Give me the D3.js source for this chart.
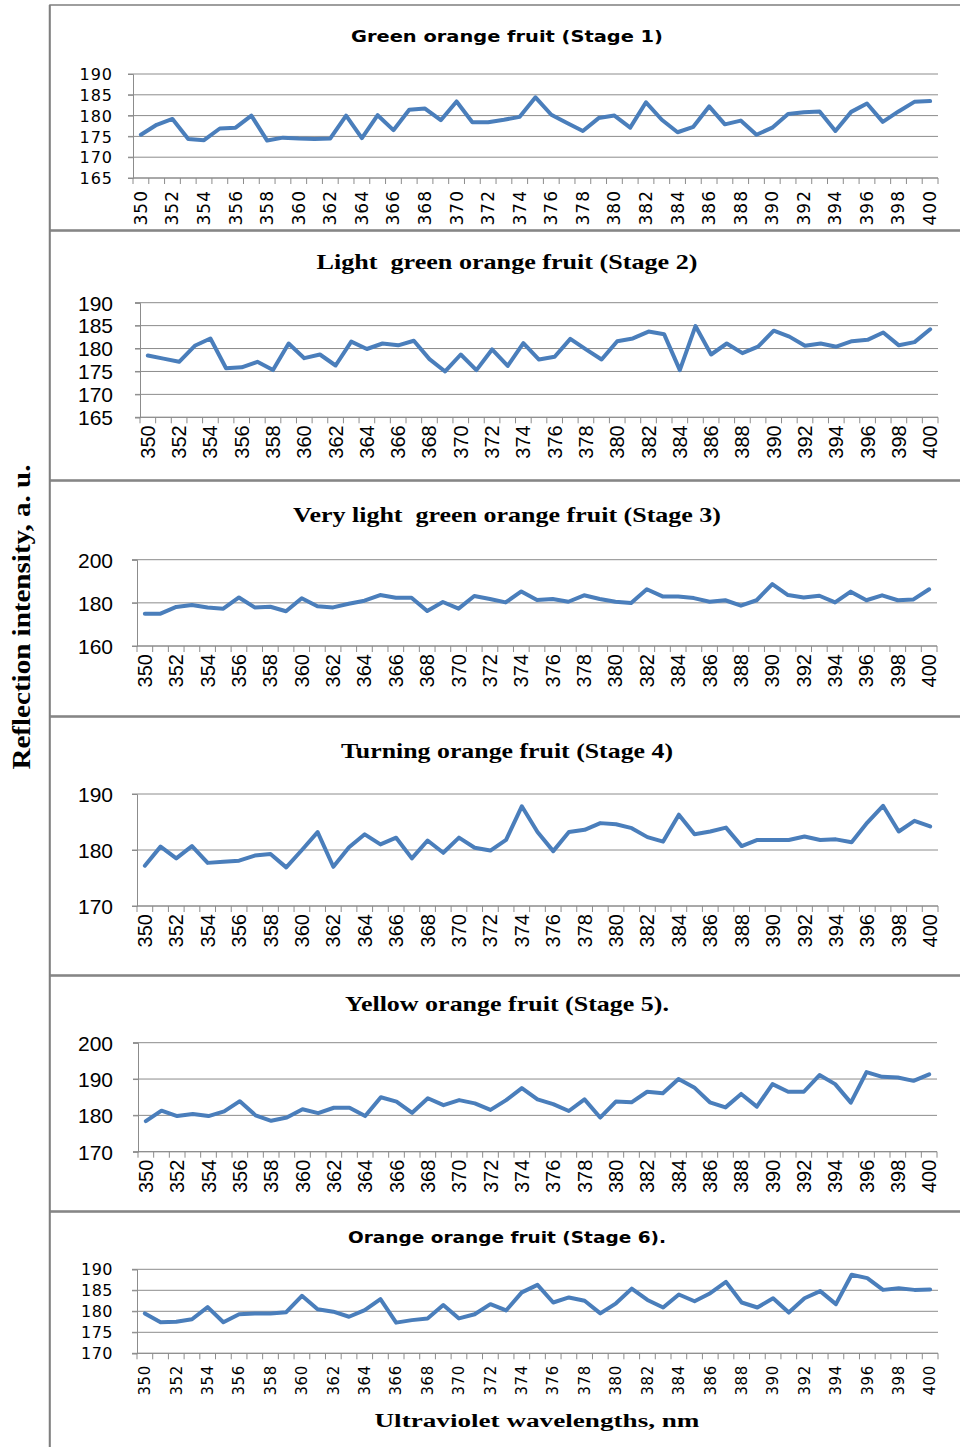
<!DOCTYPE html>
<html><head><meta charset="utf-8">
<script src="https://cdn.jsdelivr.net/npm/d3@7"></script>
<style>body{margin:0;background:#fff}svg{display:block}</style></head>
<body>
<script>
const wavelengths = [350,351,352,353,354,355,356,357,358,359,360,361,362,363,364,365,366,367,368,369,370,371,372,373,374,375,376,377,378,379,380,381,382,383,384,385,386,387,388,389,390,391,392,393,394,395,396,397,398,399,400];
const xTickLabels = [350,352,354,356,358,360,362,364,366,368,370,372,374,376,378,380,382,384,386,388,390,392,394,396,398,400];

const stage1 = [175.4,177.8,179.2,174.4,174.1,176.9,177.1,180.0,174.0,174.7,174.5,174.4,174.5,180.0,174.6,180.1,176.5,181.4,181.7,178.9,183.4,178.4,178.4,179.0,179.7,184.4,180.2,178.2,176.3,179.4,180.0,177.1,183.2,179.0,176.0,177.3,182.2,177.9,178.8,175.4,177.1,180.4,180.8,181.0,176.3,180.9,182.9,178.5,181.0,183.3,183.5];
const stage2 = [178.5,177.8,177.1,180.6,182.2,175.7,175.9,177.1,175.3,181.1,177.9,178.7,176.3,181.5,179.9,181.1,180.7,181.7,177.7,175.0,178.7,175.3,179.8,176.2,181.2,177.6,178.2,182.1,179.8,177.6,181.6,182.2,183.7,183.1,175.3,184.9,178.7,181.1,179.0,180.4,183.9,182.6,180.6,181.1,180.4,181.6,181.9,183.5,180.7,181.4,184.2];
const stage3 = [175.0,175.0,178.1,179.0,177.8,177.3,182.5,177.9,178.2,176.1,182.1,178.4,177.9,179.6,181.0,183.6,182.4,182.4,176.2,180.4,177.3,183.2,181.8,180.2,185.3,181.3,181.8,180.5,183.5,181.8,180.5,179.9,186.3,183.0,182.9,182.2,180.5,181.2,178.7,181.2,188.7,183.6,182.5,183.3,180.2,185.2,181.2,183.5,181.2,181.6,186.3];
const stage4 = [177.2,180.6,178.5,180.7,177.7,177.9,178.1,179.0,179.3,176.9,180.0,183.2,177.0,180.5,182.8,181.0,182.2,178.5,181.7,179.5,182.2,180.4,179.9,181.8,187.8,183.2,179.8,183.2,183.6,184.8,184.6,183.9,182.3,181.5,186.3,182.8,183.3,184.0,180.7,181.8,181.8,181.8,182.4,181.8,181.9,181.4,184.9,187.9,183.3,185.2,184.2];
const stage5 = [178.4,181.3,179.8,180.4,179.8,181.1,183.9,180.0,178.5,179.4,181.7,180.6,182.1,182.1,179.8,185.0,183.8,180.7,184.7,182.8,184.2,183.3,181.5,184.2,187.5,184.4,183.1,181.2,184.4,179.4,183.8,183.6,186.5,186.1,190.0,187.7,183.6,182.2,185.9,182.4,188.6,186.5,186.5,191.1,188.6,183.5,191.9,190.6,190.4,189.5,191.3];
const stage6 = [179.5,177.4,177.5,178.1,181.0,177.4,179.3,179.5,179.5,179.8,183.7,180.5,179.9,178.7,180.3,182.9,177.3,177.9,178.3,181.5,178.3,179.3,181.7,180.2,184.5,186.3,182.1,183.3,182.5,179.5,181.9,185.4,182.7,180.9,184.0,182.4,184.3,187.0,182.1,180.9,183.1,179.7,183.1,184.8,181.7,188.7,187.9,185.1,185.5,185.1,185.2];

const stageTitles = [
  "Green orange fruit (Stage 1)",
  "Light  green orange fruit (Stage 2)",
  "Very light  green orange fruit (Stage 3)",
  "Turning orange fruit (Stage 4)",
  "Yellow orange fruit (Stage 5).",
  "Orange orange fruit (Stage 6)."
];
const yTicks1 = [165,170,175,180,185,190];
const yTicks2 = [165,170,175,180,185,190];
const yTicks3 = [160,180,200];
const yTicks4 = [170,180,190];
const yTicks5 = [170,180,190,200];
const yTicks6 = [170,175,180,185,190];
const yTitle = "Reflection intensity, a. u.";
const xTitle = "Ultraviolet wavelengths, nm";

const seriesList = [stage1, stage2, stage3, stage4, stage5, stage6];
const tickList = [yTicks1, yTicks2, yTicks3, yTicks4, yTicks5, yTicks6];

// layout (positions / styles)
const W = 960, H = 1447;
const panels = [
  {box:[5,230],   x0:133, x1:938, yTop:74,    yBot:178,   titleY:42,   tFont:"DejaVu Sans", tSize:16, tLen:312, tickFont:"DejaVu Sans", tickSize:16, xlSize:17, ls:1, xOff:12},
  {box:[231,480], x0:140, x1:938, yTop:302.7, yBot:417.3, titleY:269,  tFont:"Liberation Serif", tSize:22, tLen:381, tickFont:"Liberation Sans", tickSize:21, xlSize:20, ls:0, xOff:8},
  {box:[481,716], x0:137, x1:937, yTop:559.7, yBot:646,   titleY:522,  tFont:"Liberation Serif", tSize:22, tLen:428, tickFont:"Liberation Sans", tickSize:21, xlSize:20, ls:0, xOff:8},
  {box:[717,975], x0:137, x1:938, yTop:794,   yBot:906,   titleY:758,  tFont:"Liberation Serif", tSize:22, tLen:332, tickFont:"Liberation Sans", tickSize:21, xlSize:20, ls:0, xOff:8},
  {box:[976,1211],x0:138, x1:937, yTop:1042.7,yBot:1151.7,titleY:1011, tFont:"Liberation Serif", tSize:22, tLen:324, tickFont:"Liberation Sans", tickSize:21, xlSize:20, ls:0, xOff:8},
  {box:[1212,1449],x0:137,x1:938, yTop:1269.3,yBot:1353.3,titleY:1243, tFont:"DejaVu Sans", tSize:16, tLen:318, tickFont:"DejaVu Sans", tickSize:16, xlSize:15, ls:0.5, xOff:12}
];
const lineColor = "#4a7ebb", gridColor = "#8c8c8c", frameColor = "#7f7f7f";

const svg = d3.select("body").append("svg").attr("width", W).attr("height", H);

panels.forEach((p, k) => {
  const data = seriesList[k], ticks = tickList[k];
  const g = svg.append("g");
  g.append("rect").attr("x", 50).attr("y", p.box[0]).attr("width", W + 10).attr("height", p.box[1] - p.box[0])
    .attr("fill", "#fff").attr("stroke", frameColor).attr("stroke-width", 1.5);

  const x = d3.scaleBand().domain(wavelengths).range([p.x0, p.x1]).paddingInner(0).paddingOuter(0);
  const y = d3.scaleLinear().domain(d3.extent(ticks)).range([p.yBot, p.yTop]);

  // gridlines
  g.append("g").selectAll("line").data(ticks).join("line")
    .attr("x1", p.x0 - 5).attr("x2", p.x1).attr("y1", d => y(d)).attr("y2", d => y(d))
    .attr("stroke", gridColor).attr("stroke-width", 1);

  // y axis
  const ya = g.append("g").attr("transform", `translate(${p.x0},0)`)
    .call(d3.axisLeft(y).tickValues(ticks).tickSize(5).tickPadding(15));
  ya.select(".domain").attr("stroke", gridColor);
  ya.selectAll(".tick line").attr("stroke", gridColor);
  ya.selectAll("text").attr("x", 113 - p.x0).attr("font-family", p.tickFont).attr("font-size", p.tickSize)
    .attr("fill", "#000").attr("letter-spacing", p.ls).attr("dy", "0.35em");

  // x axis: ticks between categories
  const xa = g.append("g").attr("transform", `translate(0,${p.yBot})`);
  xa.append("line").attr("x1", p.x0).attr("x2", p.x1).attr("stroke", gridColor);
  const bounds = wavelengths.map(d => x(d)).concat([p.x1]);
  xa.selectAll("line.tk").data(bounds).join("line").attr("class", "tk")
    .attr("x1", d => d).attr("x2", d => d).attr("y1", 0).attr("y2", 6).attr("stroke", gridColor);
  xa.selectAll("text").data(xTickLabels).join("text")
    .attr("transform", d => `translate(${x(d) + x.bandwidth() / 2},${p.xOff}) rotate(-90)`)
    .attr("text-anchor", "end").attr("dy", "0.35em")
    .attr("font-family", p.tickFont).attr("font-size", p.xlSize).attr("letter-spacing", p.ls)
    .attr("fill", "#000").text(d => d);

  // line
  const line = d3.line().x((d, i) => x(wavelengths[i]) + x.bandwidth() / 2).y(d => y(d));
  g.append("path").datum(data).attr("d", line).attr("fill", "none")
    .attr("stroke", lineColor).attr("stroke-width", 4).attr("stroke-linejoin", "round").attr("stroke-linecap", "round");

  // title
  g.append("text").attr("x", 507).attr("y", p.titleY).attr("text-anchor", "middle")
    .attr("font-family", p.tFont).attr("font-weight", "bold").attr("font-size", p.tSize)
    .attr("textLength", p.tLen).attr("lengthAdjust", "spacingAndGlyphs")
    .attr("xml:space", "preserve").style("white-space", "pre").text(stageTitles[k]);
});

// left frame line
svg.append("line").attr("x1", 49.5).attr("x2", 49.5).attr("y1", 5).attr("y2", H).attr("stroke", frameColor).attr("stroke-width", 1.5);

svg.append("text").attr("transform", "translate(30,617) rotate(-90)").attr("text-anchor", "middle")
  .attr("font-family", "Liberation Serif").attr("font-weight", "bold").attr("font-size", 25)
  .attr("textLength", 305).attr("lengthAdjust", "spacingAndGlyphs").text(yTitle);
svg.append("text").attr("x", 537).attr("y", 1427).attr("text-anchor", "middle")
  .attr("font-family", "Liberation Serif").attr("font-weight", "bold").attr("font-size", 18)
  .attr("textLength", 325).attr("lengthAdjust", "spacingAndGlyphs").text(xTitle);
</script>
</body></html>
